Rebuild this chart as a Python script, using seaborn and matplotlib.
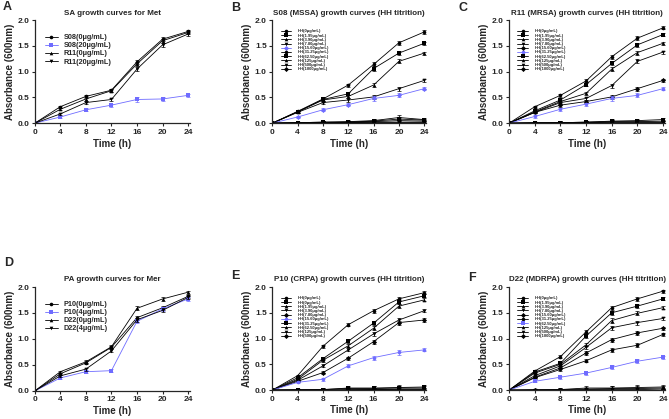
import numpy as np
import pandas as pd
import matplotlib
matplotlib.use("Agg")
import matplotlib.pyplot as plt
import seaborn as sns

sns.set_style("ticks")
plt.rcParams['font.family'] = ['Liberation Sans', 'DejaVu Sans']
plt.rcParams['font.weight'] = 'bold'

time_h = [0, 4, 8, 12, 16, 20, 24]
sem = [0, 0.02, 0.03, 0.03, 0.04, 0.04, 0.03]

# A - SA growth curves for Met
a_labels = ["S08(0μg/mL)", "S08(20μg/mL)", "R11(0μg/mL)", "R11(20μg/mL)"]
a_vals = [
    [0, 0.32, 0.52, 0.64, 1.19, 1.63, 1.78],
    [0, 0.12, 0.26, 0.35, 0.46, 0.47, 0.54],
    [0, 0.27, 0.47, 0.63, 1.15, 1.60, 1.76],
    [0, 0.18, 0.40, 0.46, 1.05, 1.52, 1.73],
]
a_blue = 1

# B - S08 (MSSA)
hh_b = ["HH(0μg/mL)", "HH(1.95μg/mL)", "HH(3.90μg/mL)", "HH(7.80μg/mL)", "HH(15.60μg/mL)",
        "HH(31.25μg/mL)", "HH(62.50μg/mL)", "HH(125μg/mL)", "HH(500μg/mL)", "HH(1000μg/mL)"]
b_vals = [
    [0, 0.23, 0.47, 0.74, 1.14, 1.56, 1.77],
    [0, 0.22, 0.46, 0.57, 1.06, 1.36, 1.55],
    [0, 0.22, 0.45, 0.52, 0.74, 1.20, 1.36],
    [0, 0.21, 0.40, 0.45, 0.51, 0.67, 0.83],
    [0, 0.12, 0.26, 0.36, 0.48, 0.54, 0.67],
    [0, 0.01, 0.02, 0.03, 0.05, 0.11, 0.07],
    [0, 0.01, 0.02, 0.02, 0.04, 0.08, 0.06],
    [0, 0.01, 0.01, 0.02, 0.03, 0.05, 0.04],
    [0, 0.00, 0.01, 0.01, 0.02, 0.02, 0.02],
    [0, 0.00, 0.00, 0.01, 0.01, 0.01, 0.01],
]
b_blue = 4

# C - R11 (MRSA)
hh_c = ["HH(0μg/mL)", "HH(1.95μg/mL)", "HH(3.90μg/mL)", "HH(7.80μg/mL)", "HH(15.60μg/mL)",
        "HH(31.25μg/mL)", "HH(62.50μg/mL)", "HH(125μg/mL)", "HH(500μg/mL)", "HH(1000μg/mL)"]
c_vals = [
    [0, 0.32, 0.54, 0.82, 1.29, 1.65, 1.85],
    [0, 0.24, 0.45, 0.75, 1.16, 1.52, 1.72],
    [0, 0.22, 0.42, 0.58, 1.05, 1.37, 1.55],
    [0, 0.21, 0.40, 0.48, 0.73, 1.20, 1.38],
    [0, 0.21, 0.35, 0.42, 0.51, 0.67, 0.83],
    [0, 0.13, 0.27, 0.37, 0.48, 0.54, 0.67],
    [0, 0.01, 0.01, 0.02, 0.04, 0.05, 0.07],
    [0, 0.01, 0.01, 0.02, 0.03, 0.03, 0.04],
    [0, 0.00, 0.01, 0.01, 0.02, 0.02, 0.02],
    [0, 0.00, 0.00, 0.01, 0.01, 0.01, 0.01],
]
c_blue = 5

# D - PA growth curves for Mer
d_labels = ["P10(0μg/mL)", "P10(4μg/mL)", "D22(0μg/mL)", "D22(4μg/mL)"]
d_vals = [
    [0, 0.33, 0.54, 0.84, 1.41, 1.60, 1.82],
    [0, 0.25, 0.37, 0.39, 1.34, 1.58, 1.77],
    [0, 0.37, 0.56, 0.85, 1.59, 1.77, 1.90],
    [0, 0.29, 0.42, 0.77, 1.37, 1.55, 1.80],
]
d_blue = 1

# E - P10 (CRPA)
hh_e = ["HH(0μg/mL)", "HH(0μg/mL)", "HH(1.95μg/mL)", "HH(3.90μg/mL)", "HH(7.80μg/mL)",
        "HH(15.60μg/mL)", "HH(31.25μg/mL)", "HH(62.50μg/mL)", "HH(125μg/mL)", "HH(500μg/mL)"]
e_vals = [
    [0, 0.28, 0.85, 1.27, 1.54, 1.77, 1.89],
    [0, 0.24, 0.61, 0.95, 1.30, 1.71, 1.83],
    [0, 0.21, 0.58, 0.86, 1.20, 1.63, 1.75],
    [0, 0.19, 0.47, 0.78, 1.09, 1.36, 1.54],
    [0, 0.17, 0.34, 0.62, 0.94, 1.31, 1.36],
    [0, 0.15, 0.21, 0.47, 0.63, 0.73, 0.78],
    [0, 0.01, 0.01, 0.04, 0.04, 0.05, 0.06],
    [0, 0.00, 0.01, 0.03, 0.03, 0.04, 0.04],
    [0, 0.00, 0.00, 0.01, 0.01, 0.02, 0.02],
    [0, 0.00, 0.00, 0.00, 0.01, 0.01, 0.01],
]
e_blue = 5

# F - D22 (MDRPA)
hh_f = ["HH(0μg/mL)", "HH(1.95μg/mL)", "HH(3.90μg/mL)", "HH(7.80μg/mL)", "HH(15.60μg/mL)",
        "HH(31.25μg/mL)", "HH(62.50μg/mL)", "HH(125μg/mL)", "HH(500μg/mL)", "HH(1000μg/mL)"]
f_vals = [
    [0, 0.37, 0.65, 1.13, 1.60, 1.77, 1.92],
    [0, 0.35, 0.52, 1.05, 1.50, 1.63, 1.77],
    [0, 0.33, 0.50, 0.88, 1.35, 1.49, 1.60],
    [0, 0.28, 0.47, 0.83, 1.21, 1.31, 1.39],
    [0, 0.25, 0.43, 0.72, 0.98, 1.11, 1.20],
    [0, 0.24, 0.40, 0.57, 0.78, 0.87, 1.08],
    [0, 0.17, 0.25, 0.33, 0.44, 0.56, 0.64],
    [0, 0.01, 0.01, 0.04, 0.04, 0.05, 0.06],
    [0, 0.00, 0.01, 0.02, 0.03, 0.03, 0.04],
    [0, 0.00, 0.00, 0.01, 0.01, 0.01, 0.02],
]
f_blue = 6

markers = ['o', 's', '^', 'v', 'D', 'o', 's', '^', 'v', 'D', 'o']
blue = '#6f6cff'

fig = plt.figure(figsize=(6.69, 4.19), dpi=100)

panels = [
    ("A", "SA growth curves for Met", a_labels, a_vals, a_blue, [0.052, 0.706, 0.232, 0.246], 5.2, (0.004, 0.998)),
    ("B", "S08 (MSSA) growth curves (HH titrition)", hh_b, b_vals, b_blue, [0.407, 0.706, 0.230, 0.246], 3.0, (0.345, 0.995)),
    ("C", "R11 (MRSA) growth curves (HH titrition)", hh_c, c_vals, c_blue, [0.761, 0.706, 0.233, 0.246], 3.0, (0.685, 0.995)),
    ("D", "PA growth curves for Mer", d_labels, d_vals, d_blue, [0.052, 0.067, 0.232, 0.248], 5.2, (0.006, 0.387)),
    ("E", "P10 (CRPA) growth curves (HH titrition)", hh_e, e_vals, e_blue, [0.407, 0.069, 0.230, 0.246], 3.0, (0.345, 0.356)),
    ("F", "D22 (MDRPA) growth curves (HH titrition)", hh_f, f_vals, f_blue, [0.761, 0.069, 0.233, 0.246], 3.0, (0.700, 0.351)),
]

for letter, title, labels, vals, bi, pos, lfs, lpos in panels:
    ax = fig.add_axes(pos)
    for i, (lab, v) in enumerate(zip(labels, vals)):
        col = blue if i == bi else 'black'
        df = pd.DataFrame({'Time': time_h, 'OD': v})
        sns.lineplot(data=df, x='Time', y='OD', ax=ax, color=col, marker=markers[i],
                     markersize=2.6, markeredgewidth=0, linewidth=0.6, label=lab)
        ax.errorbar(time_h, v, yerr=sem, fmt='none', ecolor=col, elinewidth=0.5,
                    capsize=1.3, capthick=0.5)
    ax.set_xlim(0, 24.3)
    ax.set_ylim(0, 2.0)
    ax.set_xticks(time_h)
    ax.set_yticks([0, 0.5, 1.0, 1.5, 2.0])
    ax.set_yticklabels(["0.0", "0.5", "1.0", "1.5", "2.0"])
    ax.tick_params(labelsize=6, width=0.8, length=2.5, pad=1.5)
    for s in ['top', 'right']:
        ax.spines[s].set_visible(False)
    for s in ['left', 'bottom']:
        ax.spines[s].set_linewidth(0.9)
    ax.set_xlabel("Time (h)", fontsize=7, fontweight='bold', labelpad=2)
    ax.set_ylabel("Absorbance (600nm)", fontsize=7, fontweight='bold', labelpad=2)
    ax.set_title(title, fontsize=5.8, fontweight='bold', pad=4)
    if len(labels) > 4:
        ax.legend(loc='upper left', bbox_to_anchor=(0.04, 0.93), frameon=False, fontsize=lfs,
                  handlelength=2.6, labelspacing=0.05, handletextpad=1.5, borderpad=0)
    else:
        ax.legend(loc='upper left', bbox_to_anchor=(0.04, 0.90), frameon=False, fontsize=lfs,
                  handlelength=1.8, labelspacing=0.15, handletextpad=0.8, borderpad=0)
    fig.text(lpos[0], lpos[1], letter, fontsize=9, fontweight='bold', va='top')

fig.savefig("out.png", dpi=100)
